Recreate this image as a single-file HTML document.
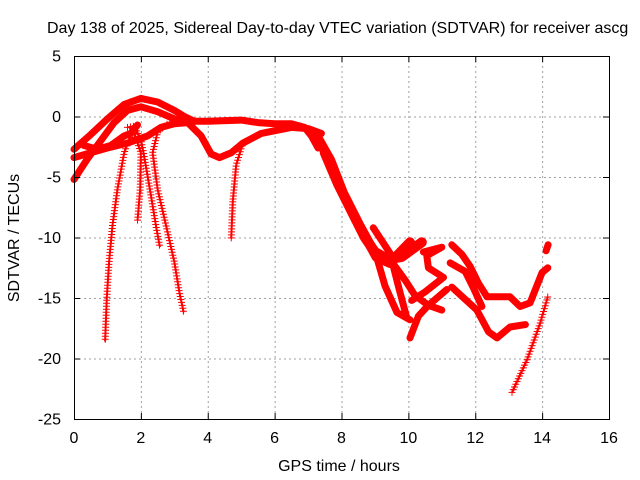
<!DOCTYPE html>
<html><head><meta charset="utf-8"><style>
html,body{margin:0;padding:0;background:#fff;overflow:hidden;}
svg{display:block;font-family:"Liberation Sans",sans-serif;}
</style></head><body>
<svg id="chart" width="640" height="480" viewBox="0 0 640 480" xmlns="http://www.w3.org/2000/svg">
<rect width="640" height="480" fill="#fff"/>
<text x="47" y="33" font-size="16" fill="#000">Day 138 of 2025, Sidereal Day-to-day VTEC variation (SDTVAR) for receiver ascg</text>
<g id="grid"></g>
<g id="marks"></g>
<rect x="74.5" y="56.5" width="535" height="363" fill="none" stroke="#000" stroke-width="1"/>
<g id="ticks"></g>
<text x="339" y="471" font-size="16" text-anchor="middle">GPS time / hours</text>
<text transform="translate(19,238) rotate(-90)" font-size="16" text-anchor="middle">SDTVAR / TECUs</text>
</svg>
<script>
const xTicks=[0,2,4,6,8,10,12,14,16];
const yTicks=[5,0,-5,-10,-15,-20,-25];
// tracks: [hour, TECU] pairs
const trackTopArc=[[0,-2.7],[0.5,-1.5],[1,-0.2],[1.5,1.0],[2,1.5],[2.5,1.2],[3,0.5],[3.3,0],[3.6,-0.4]];
const trackSecondArc=[[0,-5.2],[0.4,-3.5],[0.8,-2],[1.2,-0.5],[1.6,0.5],[2,0.8],[2.5,0.4],[3,-0.2],[3.4,-0.5],[3.8,-1.6],[4.1,-3.1],[4.35,-3.4],[4.7,-3.0],[5.05,-2.2],[5.6,-1.4],[6.5,-0.9],[7.0,-1.0],[7.4,-1.4]];
const trackFlat=[[3.4,-0.4],[4,-0.4],[5,-0.3],[5.5,-0.5],[6,-0.6],[6.5,-0.6],[6.9,-0.9],[7.1,-1.6],[7.3,-2.6]];
const trackLowLeft=[[0,-3.4],[0.5,-3.0],[1,-2.6],[1.6,-2.2],[2.2,-1.6],[2.6,-0.9],[3,-0.6],[3.4,-0.5]];
const trackCross=[[0.3,-2.4],[0.7,-2.7],[1.1,-2.4],[1.5,-1.6],[1.7,-1.4],[1.9,-0.7]];
const trackTail1=[[1.7,-1.5],[1.5,-3],[1.3,-6],[1.15,-9],[1.05,-12],[0.98,-15],[0.93,-18.6]];
const trackTail2=[[1.6,-0.9],[1.8,-0.8],[2.0,-1.9],[2.1,-3.3],[2.3,-6.5],[2.45,-9],[2.57,-10.8]];
const trackTail3=[[1.75,-1],[2.0,-3],[1.98,-6],[1.9,-8.6]];
const trackTail4=[[3.4,-0.4],[2.8,-0.6],[2.5,-1.3],[2.35,-3],[2.5,-6],[2.75,-9],[3.0,-12],[3.15,-14.5],[3.28,-16.2]];
const trackTail5=[[5.05,-2.2],[4.85,-4],[4.75,-7],[4.7,-10.1]];
const trackDescentA=[[7.27,-1.7],[7.66,-3.6],[8.04,-6.3],[8.55,-9.1],[9.05,-11.6],[9.45,-12.1],[10.05,-10.4]];
const trackDescentB=[[7.5,-3.0],[7.9,-5.6],[8.3,-7.8],[8.7,-10.0],[9.0,-11.2],[9.4,-11.8],[9.8,-11.6],[10.4,-10.4]];
const trackA=[[8.95,-9.2],[9.45,-11.3],[9.7,-14],[9.95,-16.6]];
const trackB=[[9.05,-11.6],[9.3,-14],[9.66,-16.2],[10.05,-16.8]];
const trackC=[[11.15,-14.3],[10.6,-15.6],[10.3,-16.5],[10.05,-18.3]];
const trackD=[[9.5,-12],[9.9,-13.5],[10.2,-14.8],[10.6,-15.6],[11.0,-16.0]];
const trackE=[[10.45,-11.2],[11.0,-10.8],[10.55,-11.5],[10.6,-12.5],[11.05,-13.3],[10.5,-14.5],[10.1,-15.2]];
const trackG=[[11.3,-10.6],[11.6,-11.4],[11.85,-12.4],[12.1,-13.8],[12.35,-14.9],[13.04,-14.9],[13.34,-15.7],[13.64,-15.4],[14.0,-12.9],[14.17,-12.5]];
const trackH=[[11.25,-12.1],[11.7,-12.8],[11.95,-14.2],[12.2,-15.7]];
const trackI=[[11.3,-14.1],[12.05,-16.0],[12.4,-17.8],[12.65,-18.3],[13.04,-17.4],[13.5,-17.2]];
const trackJ=[[13.1,-22.8],[13.55,-20.1],[13.94,-17.1],[14.17,-14.9]];
const trackK=[[14.12,-11.1],[14.18,-10.6]];
const denseTracks=[trackTopArc,trackSecondArc,trackFlat,trackLowLeft,trackCross,trackA,trackB,trackC,trackD,trackE,trackG,trackH,trackI,trackK];
const bandTracks=[trackDescentA,trackDescentB];
const sparseTracks=[trackTail1,trackTail2,trackTail3,trackTail4,trackTail5,trackJ];

const NS='http://www.w3.org/2000/svg';
const X0=74,X1=609,Y0=419,Y1=56;
function xs(v){return X0+(v-0)/(16-0)*(X1-X0);}
function ys(v){return Y0-(v-(-25))/(5-(-25))*(Y0-Y1);}
function mk(tag,attrs,parent){const e=document.createElementNS(NS,tag);for(const k in attrs)e.setAttribute(k,attrs[k]);parent.appendChild(e);return e;}
const grid=document.getElementById('grid'),ticks=document.getElementById('ticks'),marks=document.getElementById('marks');
xTicks.forEach(t=>{
  const x=xs(t)+0.5;
  if(t>0&&t<16){const g=mk('line',{x1:x,x2:x,y1:Y1,y2:Y0,stroke:'#a0a0a0','stroke-dasharray':'2,3'},grid);
  
  }
  const tk=mk('path',{d:`M${x},${Y0}v-6M${x},${Y1}v6`,stroke:'#000'},ticks);
  
  
  const l=mk('text',{x:xs(t),y:443,'font-size':'16','text-anchor':'middle'},ticks);l.textContent=t;
  
  
});
yTicks.forEach(t=>{
  const y=ys(t)+0.5;
  if(t<5&&t>-25){const g=mk('line',{x1:X0,x2:X1,y1:y,y2:y,stroke:'#a0a0a0','stroke-dasharray':'2,3'},grid);
  
  }
  const tk=mk('path',{d:`M${X0},${y}h6M${X1},${y}h-6`,stroke:'#000'},ticks);
  
  
  const l=mk('text',{x:61,y:ys(t)+5.5,'font-size':'16','text-anchor':'end'},ticks);l.textContent=t;
  
  
});
function pts(tr){return tr.map(p=>xs(p[0]).toFixed(1)+','+ys(p[1]).toFixed(1)).join(' ');}
denseTracks.forEach(tr=>{
  const pl=mk('polyline',{points:pts(tr),fill:'none',stroke:'#f00','stroke-width':7,'stroke-linejoin':'round','stroke-linecap':'round'},marks);
  
  
});
bandTracks.forEach(tr=>{
  const pl=mk('polyline',{points:pts(tr),fill:'none',stroke:'#f00','stroke-width':10,'stroke-linejoin':'round','stroke-linecap':'round'},marks);
  
  
});
sparseTracks.forEach(tr=>{
  const pl=mk('polyline',{points:pts(tr),fill:'none',stroke:'#f00','stroke-width':2,'stroke-linejoin':'round'},marks);
  
  
  // plus markers spaced along the drawn path (geometry only)
  const len=pl.getTotalLength();
  for(let s=0;s<=len;s+=3){
    const p=pl.getPointAtLength(s);
    const m=mk('path',{d:`M${p.x-3.5},${p.y}h7M${p.x},${p.y-3.5}v7`,stroke:'#f00','stroke-width':1},marks);
    
    
  }
});
</script>
</body></html>
